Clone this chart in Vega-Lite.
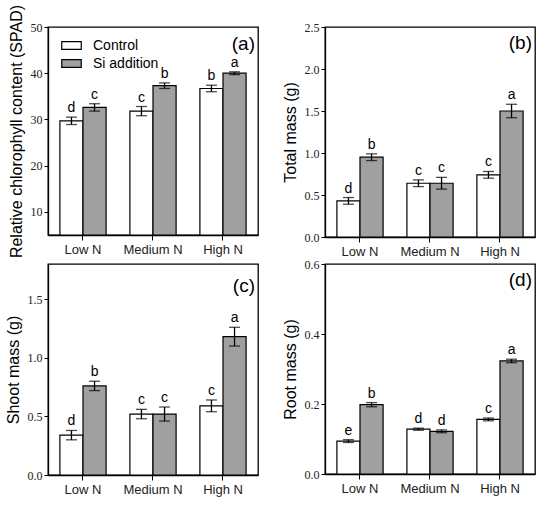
{
  "$schema": "https://vega.github.io/schema/vega-lite/v6.json",
  "padding": {"left": 4, "top": 3, "right": 5, "bottom": 0},
  "background": "white",
  "data": {
    "values": [
      {"panel": "a", "N": "Low N", "trt": "Control", "mean": 29.7, "lo": 28.9, "hi": 30.5, "letter": "d"},
      {"panel": "a", "N": "Low N", "trt": "Si addition", "mean": 32.6, "lo": 31.8, "hi": 33.4, "letter": "c"},
      {"panel": "a", "N": "Medium N", "trt": "Control", "mean": 31.8, "lo": 30.8, "hi": 32.8, "letter": "c"},
      {"panel": "a", "N": "Medium N", "trt": "Si addition", "mean": 37.3, "lo": 36.7, "hi": 37.9, "letter": "b"},
      {"panel": "a", "N": "High N", "trt": "Control", "mean": 36.7, "lo": 36.0, "hi": 37.4, "letter": "b"},
      {"panel": "a", "N": "High N", "trt": "Si addition", "mean": 40.0, "lo": 39.7, "hi": 40.3, "letter": "a"},
      {"panel": "b", "N": "Low N", "trt": "Control", "mean": 0.43, "lo": 0.39, "hi": 0.47, "letter": "d"},
      {"panel": "b", "N": "Low N", "trt": "Si addition", "mean": 0.95, "lo": 0.91, "hi": 0.99, "letter": "b"},
      {"panel": "b", "N": "Medium N", "trt": "Control", "mean": 0.64, "lo": 0.6, "hi": 0.68, "letter": "c"},
      {"panel": "b", "N": "Medium N", "trt": "Si addition", "mean": 0.64, "lo": 0.57, "hi": 0.71, "letter": "c"},
      {"panel": "b", "N": "High N", "trt": "Control", "mean": 0.74, "lo": 0.7, "hi": 0.78, "letter": "c"},
      {"panel": "b", "N": "High N", "trt": "Si addition", "mean": 1.5, "lo": 1.42, "hi": 1.58, "letter": "a"},
      {"panel": "c", "N": "Low N", "trt": "Control", "mean": 0.34, "lo": 0.3, "hi": 0.38, "letter": "d"},
      {"panel": "c", "N": "Low N", "trt": "Si addition", "mean": 0.76, "lo": 0.72, "hi": 0.8, "letter": "b"},
      {"panel": "c", "N": "Medium N", "trt": "Control", "mean": 0.52, "lo": 0.48, "hi": 0.56, "letter": "c"},
      {"panel": "c", "N": "Medium N", "trt": "Si addition", "mean": 0.52, "lo": 0.46, "hi": 0.58, "letter": "c"},
      {"panel": "c", "N": "High N", "trt": "Control", "mean": 0.59, "lo": 0.54, "hi": 0.64, "letter": "c"},
      {"panel": "c", "N": "High N", "trt": "Si addition", "mean": 1.18, "lo": 1.1, "hi": 1.26, "letter": "a"},
      {"panel": "d", "N": "Low N", "trt": "Control", "mean": 0.094, "lo": 0.09, "hi": 0.098, "letter": "e"},
      {"panel": "d", "N": "Low N", "trt": "Si addition", "mean": 0.198, "lo": 0.192, "hi": 0.204, "letter": "b"},
      {"panel": "d", "N": "Medium N", "trt": "Control", "mean": 0.128, "lo": 0.125, "hi": 0.131, "letter": "d"},
      {"panel": "d", "N": "Medium N", "trt": "Si addition", "mean": 0.122, "lo": 0.118, "hi": 0.126, "letter": "d"},
      {"panel": "d", "N": "High N", "trt": "Control", "mean": 0.156, "lo": 0.152, "hi": 0.16, "letter": "c"},
      {"panel": "d", "N": "High N", "trt": "Si addition", "mean": 0.323, "lo": 0.318, "hi": 0.328, "letter": "a"}
    ]
  },
  "columns": 2,
  "bounds": "flush",
  "spacing": {"column": 67, "row": 27},
  "resolve": {"scale": {"y": "independent", "fill": "independent"}, "legend": {"fill": "independent"}},
  "concat": [
    {
      "width": 210, "height": 208,
      "title": {"text": "(a)", "anchor": "end", "frame": "group", "dy": 54, "dx": -3, "fontSize": 19, "fontWeight": "normal", "font": "Liberation Sans"},
      "transform": [{"filter": "datum.panel == 'a'"}],
      "encoding": {
        "x": {"field": "N", "type": "nominal", "sort": ["Low N", "Medium N", "High N"], "scale": {"paddingInner": 0.34, "paddingOuter": 0.17}, "axis": {"title": null, "labelAngle": 0}},
        "xOffset": {"field": "trt", "type": "nominal", "sort": ["Control", "Si addition"]}
      },
      "layer": [
        {
          "mark": {"type": "bar", "stroke": "black", "strokeWidth": 1.2},
          "encoding": {
            "y": {"field": "mean", "type": "quantitative", "scale": {"domain": [5, 50], "nice": false}, "axis": {"values": [10, 20, 30, 40, 50], "title": "Relative chlorophyll content (SPAD)"}},
            "y2": {"datum": 5},
            "fill": {"field": "trt", "type": "nominal", "scale": {"domain": ["Control", "Si addition"], "range": ["white", "#a0a0a0"]}, "legend": {"title": null, "orient": "none", "legendX": 13, "legendY": 8, "symbolType": "M-1,-0.4H1V0.4H-1Z", "symbolSize": 380, "symbolStrokeColor": "black", "symbolStrokeWidth": 1.2, "labelFontSize": 14, "labelFont": "Liberation Sans", "labelColor": "black", "labelOffset": 11, "rowPadding": 0, "symbolOpacity": 1}}
          }
        },
        {
          "mark": {"type": "rule", "color": "black", "strokeWidth": 1.3},
          "encoding": {"y": {"field": "lo", "type": "quantitative"}, "y2": {"field": "hi"}}
        },
        {
          "mark": {"type": "tick", "orient": "horizontal", "color": "black", "size": 11, "thickness": 1.3},
          "encoding": {"y": {"field": "lo", "type": "quantitative"}}
        },
        {
          "mark": {"type": "tick", "orient": "horizontal", "color": "black", "size": 11, "thickness": 1.3},
          "encoding": {"y": {"field": "hi", "type": "quantitative"}}
        },
        {
          "mark": {"type": "text", "baseline": "bottom", "dy": -2, "fontSize": 14, "font": "Liberation Sans"},
          "encoding": {"y": {"field": "hi", "type": "quantitative"}, "text": {"field": "letter"}}
        }
      ]
    },
    {
      "width": 210, "height": 210,
      "title": {"text": "(b)", "anchor": "end", "frame": "group", "dy": 36, "dx": -3, "fontSize": 19, "fontWeight": "normal", "font": "Liberation Sans"},
      "transform": [{"filter": "datum.panel == 'b'"}],
      "encoding": {
        "x": {"field": "N", "type": "nominal", "sort": ["Low N", "Medium N", "High N"], "scale": {"paddingInner": 0.34, "paddingOuter": 0.17}, "axis": {"title": null, "labelAngle": 0}},
        "xOffset": {"field": "trt", "type": "nominal", "sort": ["Control", "Si addition"]}
      },
      "layer": [
        {
          "mark": {"type": "bar", "stroke": "black", "strokeWidth": 1.2},
          "encoding": {
            "y": {"field": "mean", "type": "quantitative", "scale": {"domain": [0, 2.5], "nice": false}, "axis": {"values": [0, 0.5, 1, 1.5, 2, 2.5], "format": ".1f", "title": "Total mass (g)"}},
            "fill": {"field": "trt", "type": "nominal", "scale": {"domain": ["Control", "Si addition"], "range": ["white", "#a0a0a0"]}, "legend": null}
          }
        },
        {
          "mark": {"type": "rule", "color": "black", "strokeWidth": 1.3},
          "encoding": {"y": {"field": "lo", "type": "quantitative"}, "y2": {"field": "hi"}}
        },
        {
          "mark": {"type": "tick", "orient": "horizontal", "color": "black", "size": 11, "thickness": 1.3},
          "encoding": {"y": {"field": "lo", "type": "quantitative"}}
        },
        {
          "mark": {"type": "tick", "orient": "horizontal", "color": "black", "size": 11, "thickness": 1.3},
          "encoding": {"y": {"field": "hi", "type": "quantitative"}}
        },
        {
          "mark": {"type": "text", "baseline": "bottom", "dy": -2, "fontSize": 14, "font": "Liberation Sans"},
          "encoding": {"y": {"field": "hi", "type": "quantitative"}, "text": {"field": "letter"}}
        }
      ]
    },
    {
      "width": 210, "height": 211,
      "title": {"text": "(c)", "anchor": "end", "frame": "group", "dy": 36, "dx": -3, "fontSize": 19, "fontWeight": "normal", "font": "Liberation Sans"},
      "transform": [{"filter": "datum.panel == 'c'"}],
      "encoding": {
        "x": {"field": "N", "type": "nominal", "sort": ["Low N", "Medium N", "High N"], "scale": {"paddingInner": 0.34, "paddingOuter": 0.17}, "axis": {"title": null, "labelAngle": 0}},
        "xOffset": {"field": "trt", "type": "nominal", "sort": ["Control", "Si addition"]}
      },
      "layer": [
        {
          "mark": {"type": "bar", "stroke": "black", "strokeWidth": 1.2},
          "encoding": {
            "y": {"field": "mean", "type": "quantitative", "scale": {"domain": [0, 1.8], "nice": false}, "axis": {"values": [0, 0.5, 1, 1.5], "format": ".1f", "title": "Shoot mass (g)"}},
            "fill": {"field": "trt", "type": "nominal", "scale": {"domain": ["Control", "Si addition"], "range": ["white", "#a0a0a0"]}, "legend": null}
          }
        },
        {
          "mark": {"type": "rule", "color": "black", "strokeWidth": 1.3},
          "encoding": {"y": {"field": "lo", "type": "quantitative"}, "y2": {"field": "hi"}}
        },
        {
          "mark": {"type": "tick", "orient": "horizontal", "color": "black", "size": 11, "thickness": 1.3},
          "encoding": {"y": {"field": "lo", "type": "quantitative"}}
        },
        {
          "mark": {"type": "tick", "orient": "horizontal", "color": "black", "size": 11, "thickness": 1.3},
          "encoding": {"y": {"field": "hi", "type": "quantitative"}}
        },
        {
          "mark": {"type": "text", "baseline": "bottom", "dy": -2, "fontSize": 14, "font": "Liberation Sans"},
          "encoding": {"y": {"field": "hi", "type": "quantitative"}, "text": {"field": "letter"}}
        }
      ]
    },
    {
      "width": 210, "height": 210,
      "title": {"text": "(d)", "anchor": "end", "frame": "group", "dy": 36, "dx": -3, "fontSize": 19, "fontWeight": "normal", "font": "Liberation Sans"},
      "transform": [{"filter": "datum.panel == 'd'"}],
      "encoding": {
        "x": {"field": "N", "type": "nominal", "sort": ["Low N", "Medium N", "High N"], "scale": {"paddingInner": 0.34, "paddingOuter": 0.17}, "axis": {"title": null, "labelAngle": 0}},
        "xOffset": {"field": "trt", "type": "nominal", "sort": ["Control", "Si addition"]}
      },
      "layer": [
        {
          "mark": {"type": "bar", "stroke": "black", "strokeWidth": 1.2},
          "encoding": {
            "y": {"field": "mean", "type": "quantitative", "scale": {"domain": [0, 0.6], "nice": false}, "axis": {"values": [0, 0.2, 0.4, 0.6], "format": ".1f", "title": "Root mass (g)"}},
            "fill": {"field": "trt", "type": "nominal", "scale": {"domain": ["Control", "Si addition"], "range": ["white", "#a0a0a0"]}, "legend": null}
          }
        },
        {
          "mark": {"type": "rule", "color": "black", "strokeWidth": 1.3},
          "encoding": {"y": {"field": "lo", "type": "quantitative"}, "y2": {"field": "hi"}}
        },
        {
          "mark": {"type": "tick", "orient": "horizontal", "color": "black", "size": 11, "thickness": 1.3},
          "encoding": {"y": {"field": "lo", "type": "quantitative"}}
        },
        {
          "mark": {"type": "tick", "orient": "horizontal", "color": "black", "size": 11, "thickness": 1.3},
          "encoding": {"y": {"field": "hi", "type": "quantitative"}}
        },
        {
          "mark": {"type": "text", "baseline": "bottom", "dy": -2, "fontSize": 14, "font": "Liberation Sans"},
          "encoding": {"y": {"field": "hi", "type": "quantitative"}, "text": {"field": "letter"}}
        }
      ]
    }
  ],
  "config": {
    "view": {"stroke": "black", "strokeWidth": 1.3},
    "axis": {"grid": false, "domainColor": "black", "domainWidth": 1.3, "tickColor": "black", "tickSize": 4, "labelColor": "#222", "titleColor": "black", "titleFontWeight": "normal"},
    "axisX": {"labelFont": "Liberation Sans", "labelFontSize": 13, "labelPadding": 3, "tickSize": 5},
    "axisY": {"labelFont": "Liberation Serif", "labelFontSize": 12, "titleFont": "Liberation Sans", "titleFontSize": 16, "titlePadding": 6}
  }
}
